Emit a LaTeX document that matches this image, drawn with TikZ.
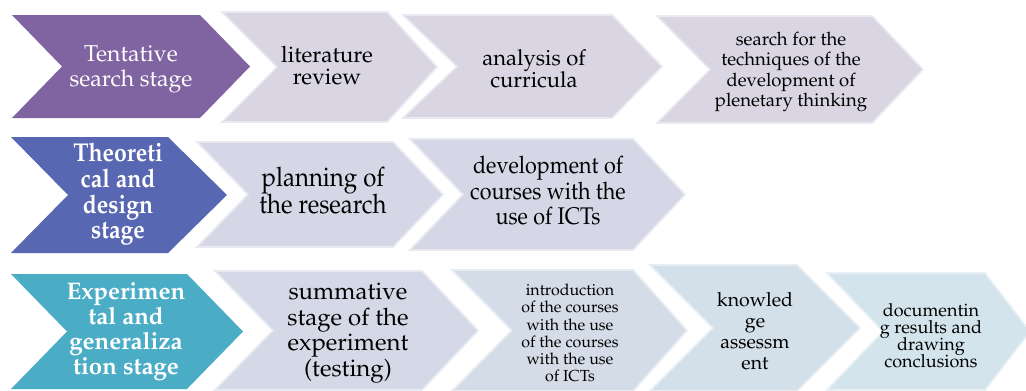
\documentclass[tikz,border=0pt]{standalone}
\usepackage[T1]{fontenc}
\renewcommand{\rmdefault}{ppl}
\usepackage{graphicx}
\definecolor{cpurple}{RGB}{128,100,162}
\definecolor{cblue}{RGB}{88,103,177}
\definecolor{cteal}{RGB}{75,172,198}
\definecolor{lA}{RGB}{217,213,227}
\definecolor{lB}{RGB}{214,215,230}
\definecolor{lC}{RGB}{213,217,231}
\definecolor{lD}{RGB}{212,220,232}
\definecolor{lE}{RGB}{211,224,234}
\definecolor{lF}{RGB}{211,228,236}
\newcommand{\fs}[2]{\fontsize{#1}{#2}\selectfont\lineskiplimit=-30pt\relax}
\newcommand{\tall}[1]{\scalebox{1}[1.12]{\lineskiplimit=0pt\relax\begin{tabular}{@{}c@{}}#1\end{tabular}}}
% style, x-left, y-top, x-right-top, x-tip, x-notch, y-bottom
\newcommand{\mychev}[7]{\path[#1] (#2,#3) -- (#4,#3) -- (#5,{(#3+#7)/2}) -- (#4,#7) -- (#2,#7) -- (#6,{(#3+#7)/2}) -- cycle;}
\begin{document}
\begin{tikzpicture}[x=1pt,y=-1pt,
  dark/.style={fill=#1},
  light/.style={fill=#1,draw=#1!55!white,line width=1.6pt,line join=miter},
  txt/.style={align=center,inner sep=0pt,text=black},
  wtxt/.style={align=center,inner sep=0pt,text=white}]
\useasboundingbox[fill=white] (0,0) rectangle (1026,391);
% row 1
\mychev{dark=cpurple}{12}{15}{200}{250}{62}{118}
\mychev{light=lA}{222}{12}{387}{437}{277}{122}
\mychev{light=lA}{403}{15}{612}{662}{457}{118}
\mychev{light=lA}{657}{16}{872}{923}{710}{123}
% row 2
\mychev{dark=cblue}{11}{137}{168}{227}{68}{253}
\mychev{light=lB}{197}{142}{393}{443}{248}{247}
\mychev{light=lB}{410}{139}{633}{685}{463}{250}
% row 3
\mychev{dark=cteal}{11}{274}{187}{243}{67}{389}
\mychev{light=lC}{215}{271}{422}{478}{273}{390}
\mychev{light=lD}{452}{270}{633}{687}{512}{391}
\mychev{light=lE}{650}{265}{797}{860}{713}{391}
\mychev{light=lF}{827}{273}{985}{1030}{883}{390}
% texts row 1
\node[wtxt,font=\fs{23}{25}] (tent) at (131,69.5) {Tentative\\search stage};
\node[txt,font=\fs{22.5}{22}] (lit) at (327,66) {literature\\review};
\node[txt,font=\fs{22}{22}] (ana) at (534,69) {analysis of\\curricula};
\node[txt,font=\fs{18.5}{20.5}] (sea) at (791,72) {search for the\\techniques of the\\development of\\plenetary thinking};
% texts row 2
\node[wtxt,font=\bfseries\fs{23}{22.5}] (theo) at (118,194.5) {\tall{Theoreti\\cal and\\design\\stage}};
\node[txt,font=\fs{24}{22.5}] (plan) at (323,194) {\tall{planning of\\the research}};
\node[txt,font=\fs{21.5}{22.5}] (devel) at (548,194) {\tall{development of\\courses with the\\use of ICTs}};
% texts row 3
\node[wtxt,font=\bfseries\fs{24}{25}] (expe) at (126,331.5) {Experimen\\tal and\\generaliza\\tion stage};
\node[txt,font=\fs{24}{25.5}] (summ) at (348,333) {summative\\stage of the\\experiment\\(testing)};
\node[txt,font=\fs{16}{17.2}] (intro) at (570,333) {introduction\\of the courses\\with the use\\of the courses\\with the use\\of ICTs};
\node[txt,font=\fs{19.5}{21}] (know) at (755,331.5) {knowled\\ge\\assessm\\ent};
\node[txt,font=\fs{18}{17}] (docu) at (931,335.5) {documentin\\g results and\\drawing\\conclusions};
\end{tikzpicture}
\end{document}
